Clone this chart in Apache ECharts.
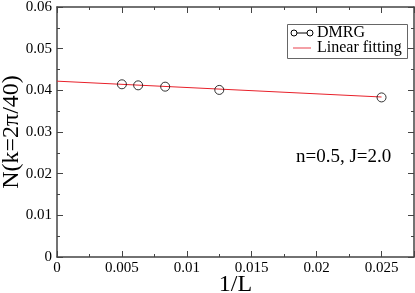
<!DOCTYPE html>
<html><head><meta charset="utf-8">
<script src="https://cdn.jsdelivr.net/npm/echarts@6/dist/echarts.min.js"></script>
<style>html,body{margin:0;padding:0;background:#fff}#c{width:415px;height:293px}</style>
</head><body><div id="c"></div>
<script>
const dmrgX = [0.005, 0.00625, 0.008333, 0.0125, 0.025];
const dmrgY = [0.04145, 0.0412, 0.04088, 0.0401, 0.0383];
const fitX = [0, 0.025];
const fitY = [0.0422, 0.0384];
const xTicks = ['0', '0.005', '0.01', '0.015', '0.02', '0.025'];
const yTicks = ['0', '0.01', '0.02', '0.03', '0.04', '0.05', '0.06'];
const xName = '1/L';
const yName = 'N(k=2π/40)';
const annotation = 'n=0.5, J=2.0';
const legendNames = ['DMRG', 'Linear fitting'];

const font = 'Liberation Serif';
const axisColor = '#444';
const chart = echarts.init(document.getElementById('c'), null, {renderer: 'canvas'});
const baseAxis = {
  type: 'value',
  nameMoveOverlap: false,
  axisLine: {show: true, onZero: false, lineStyle: {color: axisColor, width: 1.5}},
  axisTick: {show: true, inside: true, length: 6, lineStyle: {color: axisColor, width: 1}},
  minorTick: {show: true, splitNumber: 2, length: 3, lineStyle: {color: axisColor, width: 1}},
  splitLine: {show: false},
};
chart.setOption({
  animation: false,
  grid: {left: 57, right: 1, top: 7, bottom: 36, containLabel: false, outerBoundsMode: 'none'},
  xAxis: [
    Object.assign({}, baseAxis, {
      min: 0, max: 0.0275, interval: 0.005, position: 'bottom',
      name: xName, nameLocation: 'middle', nameGap: 16,
      nameTextStyle: {fontFamily: font, fontSize: 24, color: '#000', verticalAlign: 'top'},
      axisLabel: {fontFamily: font, fontSize: 15, color: '#000', margin: 4, showMaxLabel: false,
        formatter: v => { const i = Math.round(v / 0.005); return Math.abs(v - i * 0.005) < 1e-9 ? xTicks[i] : ''; }}
    }),
    Object.assign({}, baseAxis, {
      min: 0, max: 0.0275, interval: 0.005, position: 'top', axisLabel: {show: false}
    })
  ],
  yAxis: [
    Object.assign({}, baseAxis, {
      min: 0, max: 0.06, interval: 0.01, position: 'left',
      name: yName, nameLocation: 'middle', nameGap: 33,
      nameTextStyle: {fontFamily: font, fontSize: 24, color: '#000'},
      axisLabel: {fontFamily: font, fontSize: 15, color: '#000', margin: 5,
        formatter: v => yTicks[Math.round(v / 0.01)]}
    }),
    Object.assign({}, baseAxis, {
      min: 0, max: 0.06, interval: 0.01, position: 'right', axisLabel: {show: false}
    })
  ],
  series: [
    {
      name: legendNames[1], type: 'line', xAxisIndex: 0, yAxisIndex: 0,
      data: fitX.map((x, i) => [x, fitY[i]]), showSymbol: false, symbol: 'none',
      lineStyle: {color: '#e8202a', width: 1}, z: 2
    },
    {
      name: legendNames[0], type: 'scatter', xAxisIndex: 0, yAxisIndex: 0,
      data: dmrgX.map((x, i) => [x, dmrgY[i]]), symbol: 'circle', symbolSize: 9,
      itemStyle: {color: 'rgba(255,255,255,0)', borderColor: '#000', borderWidth: 1}, z: 3
    }
  ],
  graphic: [
    {type: 'rect', shape: {x: 287.5, y: 24.5, width: 120, height: 34}, style: {fill: '#fff', stroke: '#666', lineWidth: 1}, z: 11},
    {type: 'line', shape: {x1: 293, y1: 33, x2: 311, y2: 33}, style: {stroke: '#000', lineWidth: 1}, z: 12},
    {type: 'circle', shape: {cx: 294, cy: 33, r: 3}, style: {fill: '#fff', stroke: '#000', lineWidth: 1}, z: 13},
    {type: 'circle', shape: {cx: 310, cy: 33, r: 3}, style: {fill: '#fff', stroke: '#000', lineWidth: 1}, z: 13},
    {type: 'text', style: {x: 317, y: 33, text: legendNames[0], fontFamily: font, fontSize: 16, fill: '#000', verticalAlign: 'middle'}, z: 12},
    {type: 'line', shape: {x1: 293, y1: 48, x2: 311, y2: 48}, style: {stroke: '#f08088', lineWidth: 1.5}, z: 12},
    {type: 'text', style: {x: 317, y: 48, text: legendNames[1], fontFamily: font, fontSize: 16, fill: '#000', verticalAlign: 'middle'}, z: 12},
    {type: 'text', style: {x: 296, y: 157, text: annotation, fontFamily: font, fontSize: 19, fill: '#000', verticalAlign: 'middle'}, z: 12}
  ]
});
</script></body></html>
